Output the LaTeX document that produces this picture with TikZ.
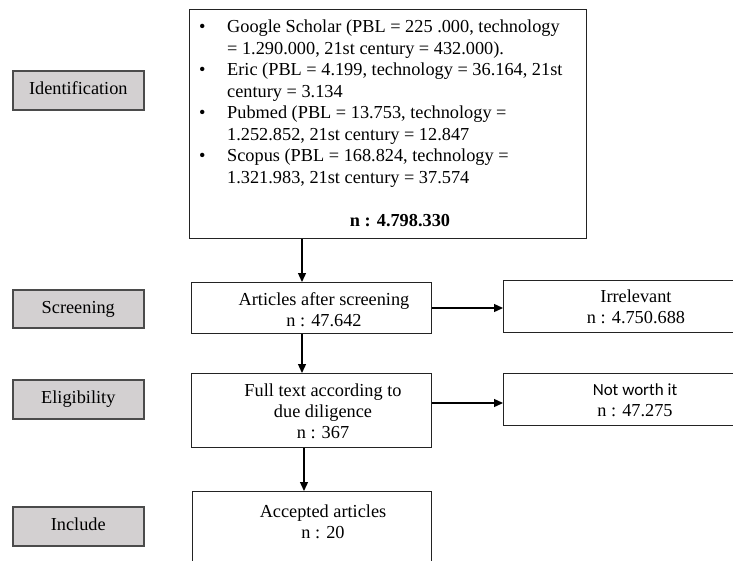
\documentclass[tikz,border=0pt]{standalone}
\usepackage{fontspec}
\setmainfont{Liberation Serif}
\newfontfamily\calibrifam{Carlito}
\usetikzlibrary{arrows.meta}
\definecolor{stagefill}{RGB}{211,208,209}
\definecolor{stageborder}{RGB}{75,75,75}
\definecolor{boxborder}{RGB}{35,35,35}
\newcommand\myfs{\fontsize{18.3}{21.2}\selectfont}
\newcommand\mylistfs{\fontsize{18.3}{21.5}\selectfont}
\begin{document}
\begin{tikzpicture}[x=1pt,y=-1pt,
  stage/.style={draw=stageborder, line width=1.6pt, fill=stagefill, minimum width=131pt,
    minimum height=38pt, inner sep=0pt, anchor=north west, font=\myfs},
  box/.style={draw=boxborder, line width=1.2pt, inner sep=0pt, anchor=north west},
  txt/.style={inner sep=0pt, align=center, font=\myfs},
  arr/.style={draw=black, line width=1.3pt, -{Triangle[length=9pt,width=8pt]}}]
\useasboundingbox (0,0) rectangle (733,560);
\clip (0,0) rectangle (733,560);
\fill[white] (0,0) rectangle (733,560);

% stage labels
\node[stage, minimum height=39pt] (ident) at (12,70) {\strut Identification};
\node[stage] (screen) at (12,289) {\strut Screening};
\node[stage, minimum height=39pt] (elig) at (12,379) {\strut Eligibility};
\node[stage, minimum height=39pt] (incl) at (12,506) {\strut Include};

% source box
\node[box, minimum width=397pt, minimum height=229pt] (src) at (189,9) {};
\node[anchor=north west, inner sep=0pt, align=left, font=\mylistfs] (srcT) at (199,17.5)
 {\strut\makebox[28pt][l]{\textbullet}Google Scholar (PBL = 225 .000, technology\\
  \strut\hspace*{28pt}= 1.290.000, 21st century = 432.000).\\
  \strut\makebox[28pt][l]{\textbullet}Eric (PBL = 4.199, technology = 36.164, 21st\\
  \strut\hspace*{28pt}century = 3.134\\
  \strut\makebox[28pt][l]{\textbullet}Pubmed (PBL = 13.753, technology =\\
  \strut\hspace*{28pt}1.252.852, 21st century = 12.847\\
  \strut\makebox[28pt][l]{\textbullet}Scopus (PBL = 168.824, technology =\\
  \strut\hspace*{28pt}1.321.983, 21st century = 37.574};
\node[txt, font=\myfs\bfseries] (srcN) at (400,222) {\strut n : 4.798.330};

% flow boxes
\node[box, minimum width=240pt, minimum height=51pt] (art) at (191,282) {};
\node[txt] (artT) at (324,312) {\strut Articles after screening\\\strut n : 47.642};

\node[box, minimum width=270pt, minimum height=52pt] (irr) at (503,280) {};
\node[txt] (irrT) at (636,309) {\strut Irrelevant\\\strut n : 4.750.688};

\node[box, minimum width=240pt, minimum height=74pt] (full) at (191,373) {};
\node[txt] (fullT) at (323,413.5) {\strut Full text according to\\\strut due diligence\\\strut n : 367};

\node[box, minimum width=270pt, minimum height=52pt] (nw) at (503,373) {};
\node[txt] (nwT) at (635,402) {{\calibrifam\fontsize{17}{21.2}\selectfont\strut Not worth it}\\\strut n : 47.275};

\node[box, minimum width=239pt, minimum height=90pt] (acc) at (192,491) {};
\node[txt] (accT) at (323,524) {\strut Accepted articles\\\strut n : 20};

% connectors
\coordinate (ax) at (302,0);
\coordinate (ax2) at (304,0);
\coordinate (ay1) at (0,308);
\coordinate (ay2) at (0,403);
\draw[arr] (src.south -| ax) -- (art.north -| ax);
\draw[arr] (art.south -| ax) -- (full.north -| ax);
\draw[arr] (full.south -| ax2) -- (acc.north -| ax2);
\draw[arr] (art.east |- ay1) -- (irr.west |- ay1);
\draw[arr] (full.east |- ay2) -- (nw.west |- ay2);
\end{tikzpicture}
\end{document}
